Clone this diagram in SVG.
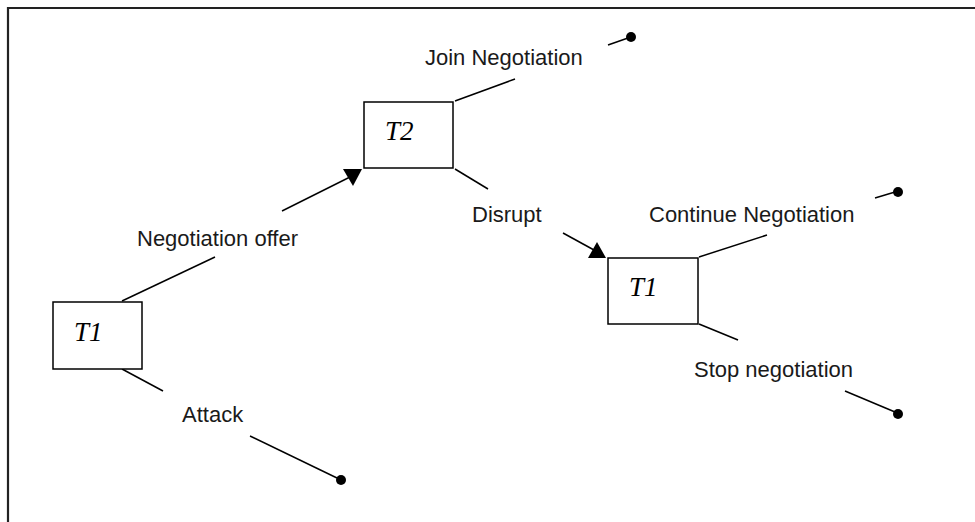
<svg xmlns="http://www.w3.org/2000/svg" width="975" height="522" viewBox="0 0 975 522">
<style>
.box{fill:#fff;stroke:#000;stroke-width:1.5}
.tl{font-family:"Liberation Serif",serif;font-style:italic;font-size:27px;fill:#000}
.lbl{font-family:"Liberation Sans",Arial,sans-serif;font-size:22px;fill:#1a1a1a}
.ln{stroke:#000;stroke-width:1.5;fill:none}
.dot{fill:#000}
</style>
<rect width="975" height="522" fill="#fff"/>
<path d="M8,522 V8 H975" fill="none" stroke="#222" stroke-width="2.2"/>
<g id="connectors">
<line class="ln" x1="122" y1="301" x2="215" y2="257"/>
<line class="ln" x1="282" y1="211" x2="350" y2="177"/>
<polygon points="343,169 362,169 353,186"/>
<line class="ln" x1="122" y1="369" x2="163" y2="391"/>
<line class="ln" x1="250" y1="436" x2="337" y2="478"/>
<circle class="dot" cx="341" cy="480" r="5"/>
<line class="ln" x1="455" y1="101" x2="515" y2="79"/>
<line class="ln" x1="608" y1="45" x2="628" y2="38"/>
<circle class="dot" cx="631" cy="37" r="5"/>
<line class="ln" x1="455" y1="169" x2="488" y2="189"/>
<line class="ln" x1="563" y1="233" x2="594" y2="250"/>
<polygon points="597,242 588,258 606,258"/>
<line class="ln" x1="699" y1="257" x2="767" y2="235"/>
<line class="ln" x1="875" y1="198" x2="895" y2="192"/>
<circle class="dot" cx="898" cy="192" r="5"/>
<line class="ln" x1="699" y1="324" x2="738" y2="340"/>
<line class="ln" x1="845" y1="391" x2="895" y2="412"/>
<circle class="dot" cx="898" cy="414" r="5"/>
</g>
<g id="labels">
<text class="lbl" x="137" y="246">Negotiation offer</text>
<text class="lbl" x="182" y="422">Attack</text>
<text class="lbl" x="425" y="65">Join Negotiation</text>
<text class="lbl" x="472" y="222">Disrupt</text>
<text class="lbl" x="649" y="222">Continue Negotiation</text>
<text class="lbl" x="694" y="377">Stop negotiation</text>
</g>
<g id="node-t1-left">
<rect class="box" x="53" y="302" width="89" height="67"/>
<text class="tl" x="74" y="341">T1</text>
</g>
<g id="node-t2">
<rect class="box" x="364" y="102" width="89" height="66"/>
<text class="tl" x="385" y="140">T2</text>
</g>
<g id="node-t1-right">
<rect class="box" x="608" y="258" width="90" height="66"/>
<text class="tl" x="629" y="296">T1</text>
</g>
</svg>
